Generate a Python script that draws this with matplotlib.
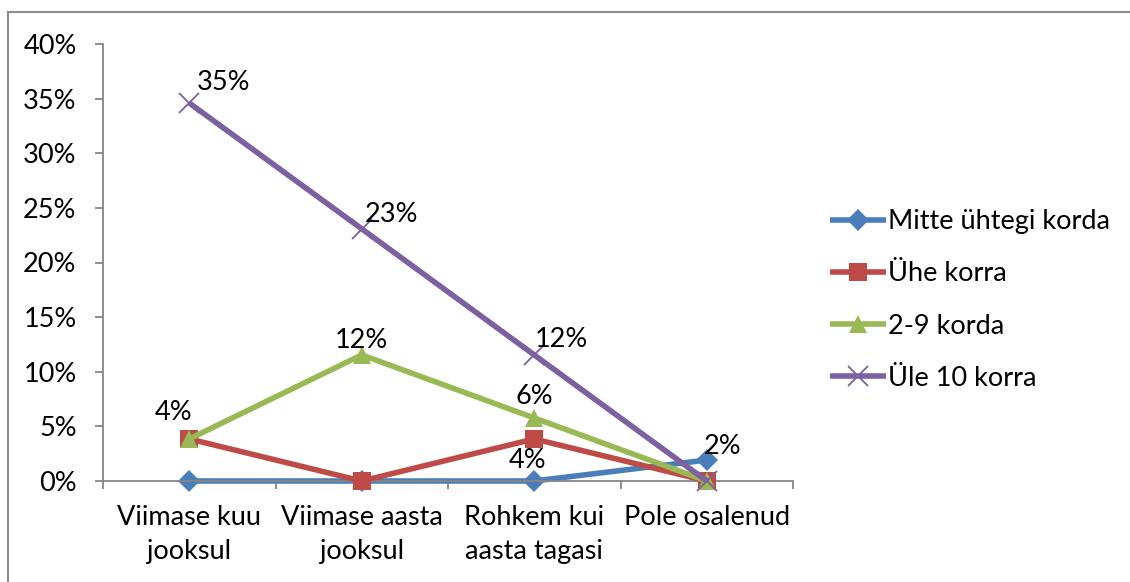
import matplotlib
matplotlib.use("Agg")
import matplotlib.pyplot as plt
from matplotlib.lines import Line2D
from matplotlib.ticker import FuncFormatter

# ---- data ----
categories = ["Viimase kuu\njooksul", "Viimase aasta\njooksul", "Rohkem kui\naasta tagasi", "Pole osalenud"]
series_names = ["Mitte ühtegi korda", "Ühe korra", "2-9 korda", "Üle 10 korra"]
mitte = [0.0, 0.0, 0.0, 1.92]
uhe = [3.85, 0.0, 3.85, 0.0]
kaks_yheksa = [3.85, 11.54, 5.77, 0.0]
yle_10 = [34.6, 23.08, 11.54, 0.0]
yticks = [0, 5, 10, 15, 20, 25, 30, 35, 40]

# which points carry a data label (series index, category index)
labelled = [(0, 3), (1, 2), (2, 0), (2, 1), (2, 2), (3, 0), (3, 1), (3, 2)]
# label offsets in pixels (dx, dy up)
label_offsets = {
    (0, 3): (16, 14), (1, 2): (-7, -22), (2, 0): (-16, 26), (2, 1): (0, 14),
    (2, 2): (0, 21), (3, 0): (8, 20), (3, 1): (3, 14), (3, 2): (1, 15),
}
label_ha = {(3, 0): "left", (3, 1): "left", (3, 2): "left"}

colors = ["#4A7EBB", "#BE4B48", "#98B954", "#7D60A0"]
markers = ["D", "s", "^", "x"]
msizes = [11, 12.5, 13, 14]

plt.rcParams["font.family"] = ["Lato", "DejaVu Sans"]
FS = 19.5

fig = plt.figure(figsize=(11.3, 5.82), dpi=100)
W, H = 1130, 582
ax = fig.add_axes([103 / W, 1 - 481 / H, (793 - 103) / W, (481 - 44) / H])

data = [mitte, uhe, kaks_yheksa, yle_10]
x = list(range(len(categories)))
for i, (vals, name) in enumerate(zip(data, series_names)):
    mk = markers[i]
    ax.plot(x, vals, color=colors[i], lw=4, marker=mk, markersize=msizes[i],
            markeredgewidth=(1.3 if mk == "x" else 0), markeredgecolor=colors[i],
            label=name, solid_capstyle="butt", clip_on=False, zorder=2 + i)

px2pt = 72 / 100
for (si, ci) in labelled:
    v = data[si][ci]
    dx, dy = label_offsets[(si, ci)]
    ax.annotate(f"{v:.0f}%", (x[ci], v), xytext=(dx * px2pt, dy * px2pt),
                textcoords="offset points", ha=label_ha.get((si, ci), "center"),
                va="center", fontsize=FS, color="black", zorder=10,
                annotation_clip=False)

ax.set_xlim(-0.5, len(categories) - 0.5)
ax.set_ylim(0, 40)
ax.set_yticks(yticks)
ax.yaxis.set_major_formatter(FuncFormatter(lambda v, p: f"{v:.0f}%"))
ax.set_xticks(x)
ax.set_xticklabels(categories, linespacing=1.45)
ax.set_xticks([i - 0.5 for i in range(len(categories) + 1)], minor=True)

for s in ["top", "right"]:
    ax.spines[s].set_visible(False)
for s in ["left", "bottom"]:
    ax.spines[s].set_color("#868686")
    ax.spines[s].set_linewidth(1.3)

ax.tick_params(axis="y", which="major", length=6, width=1.3, color="#868686",
               pad=13, labelsize=FS, direction="out")
ax.tick_params(axis="x", which="major", length=0, pad=17, labelsize=FS)
ax.tick_params(axis="x", which="minor", length=6, width=1.3, color="#868686",
               direction="out")

leg = fig.legend(loc="center left", bbox_to_anchor=(830 / W, 1 - 300 / H),
                 frameon=False, fontsize=FS, handlelength=2.05, handletextpad=0.1,
                 labelspacing=1.0, borderpad=0, borderaxespad=0)

# outer chart border (top and left edges visible)
fig.add_artist(Line2D([8 / W, 1.01], [1 - 12 / H, 1 - 12 / H], color="#8c8c8c", lw=1.5,
                      transform=fig.transFigure))
fig.add_artist(Line2D([8 / W, 8 / W], [1 - 12 / H, -0.01], color="#8c8c8c", lw=1.5,
                      transform=fig.transFigure))

fig.savefig("out.png", dpi=100)
